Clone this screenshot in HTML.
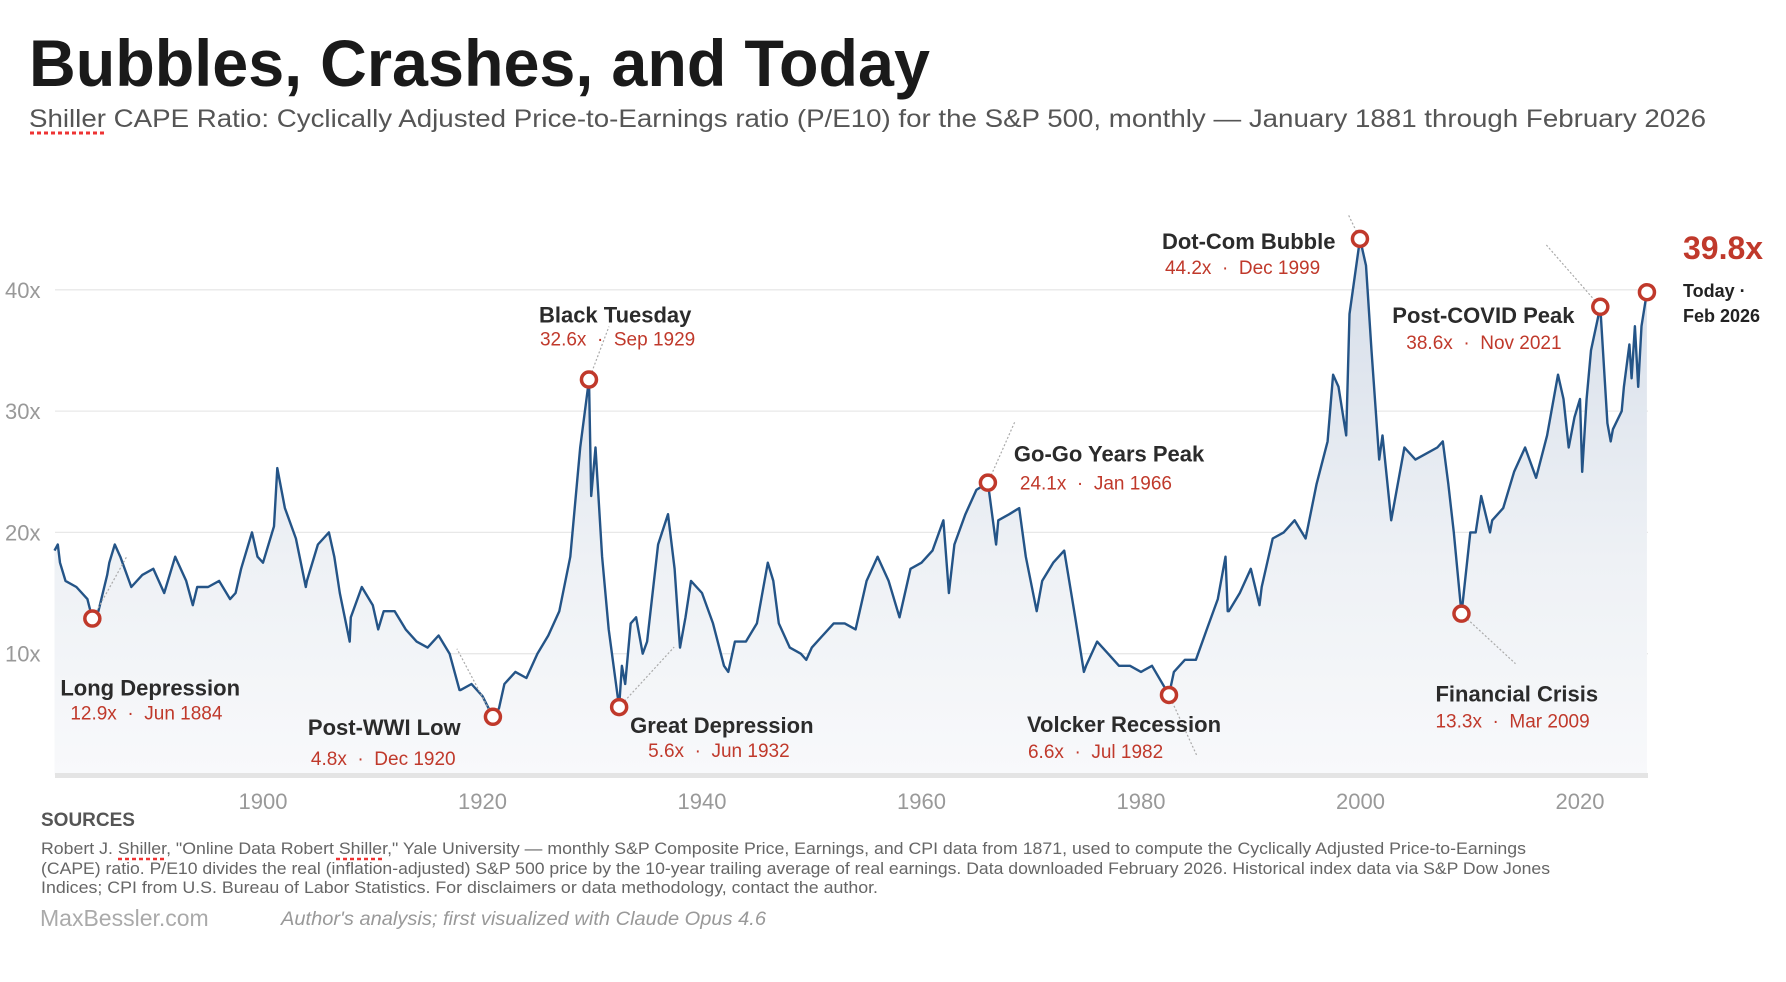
<!DOCTYPE html>
<html><head><meta charset="utf-8"><style>
html,body{margin:0;padding:0;background:#fff;}
svg{display:block;font-family:"Liberation Sans",Arial,sans-serif;}
</style></head><body>
<svg id="chart" width="1786" height="982" viewBox="0 0 1786 982">
<defs>
<linearGradient id="fillGrad" x1="0" y1="0" x2="0" y2="1">
<stop offset="0" stop-color="#d5dde9"/><stop offset="0.6" stop-color="#eef1f5"/><stop offset="1" stop-color="#f8f9fb"/>
</linearGradient>
</defs>
<text x="29" y="86" font-size="66" font-weight="bold" fill="#1a1a1a" textLength="901" lengthAdjust="spacingAndGlyphs">Bubbles, Crashes, and Today</text>
<text x="29" y="127" font-size="25" fill="#555" textLength="1677" lengthAdjust="spacingAndGlyphs">Shiller CAPE Ratio: Cyclically Adjusted Price-to-Earnings ratio (P/E10) for the S&amp;P 500, monthly — January 1881 through February 2026</text>
<line x1="30" y1="133" x2="106" y2="133" stroke="#e33" stroke-width="3" stroke-dasharray="4 3"/>
<g id="grid"></g>
<g id="yaxis"></g>
<path id="area" fill="url(#fillGrad)"/>
<path id="line" fill="none" stroke="#245487" stroke-width="2.4" stroke-linejoin="round"/>
<rect x="55" y="773" width="1593" height="5" fill="#e4e4e4"/>
<g id="xaxis"></g>
<g id="annots"></g>
<text x="1683" y="259" font-size="32" font-weight="bold" fill="#c0392b">39.8x</text>
<text x="1683" y="297" font-size="18" font-weight="bold" fill="#222">Today ·</text>
<text x="1683" y="322" font-size="18" font-weight="bold" fill="#222">Feb 2026</text>
<g>
<text x="41" y="826" font-size="19" font-weight="bold" fill="#555">SOURCES</text>
<text x="41" y="854" font-size="16.5" fill="#666" textLength="1485" lengthAdjust="spacingAndGlyphs">Robert J. Shiller, "Online Data Robert Shiller," Yale University — monthly S&amp;P Composite Price, Earnings, and CPI data from 1871, used to compute the Cyclically Adjusted Price-to-Earnings</text>
<text x="41" y="874" font-size="16.5" fill="#666" textLength="1509" lengthAdjust="spacingAndGlyphs">(CAPE) ratio. P/E10 divides the real (inflation-adjusted) S&amp;P 500 price by the 10-year trailing average of real earnings. Data downloaded February 2026. Historical index data via S&amp;P Dow Jones</text>
<text x="41" y="893" font-size="16.5" fill="#666" textLength="837" lengthAdjust="spacingAndGlyphs">Indices; CPI from U.S. Bureau of Labor Statistics. For disclaimers or data methodology, contact the author.</text>
<line x1="118" y1="859" x2="165" y2="859" stroke="#e33" stroke-width="2.5" stroke-dasharray="4 3"/>
<line x1="336" y1="859" x2="383" y2="859" stroke="#e33" stroke-width="2.5" stroke-dasharray="4 3"/>
<text x="40" y="926" font-size="23" fill="#aaa">MaxBessler.com</text>
<text x="281" y="925" font-size="19" font-style="italic" fill="#999" textLength="485" lengthAdjust="spacingAndGlyphs">Author's analysis; first visualized with Claude Opus 4.6</text>
</g>
</svg>
<script>
const years=[1881,1881.3,1881.5,1882,1883,1884,1884.45,1885,1885.8,1886,1886.5,1887,1888,1889,1890,1891,1892,1893,1893.6,1894,1895,1896,1897,1897.5,1898,1899,1899.5,1900,1901,1901.3,1902,1903,1903.9,1904,1905,1906,1906.5,1907,1907.9,1908,1909,1910,1910.5,1911,1912,1913,1914,1915,1916,1917,1917.9,1918,1919,1920,1920.95,1921.5,1922,1923,1924,1925,1926,1927,1928,1928.9,1929.7,1929.9,1930.3,1930.9,1931.5,1932.45,1932.7,1933,1933.5,1934,1934.6,1935,1936,1936.9,1937.5,1938,1938.5,1939,1940,1941,1942,1942.4,1943,1944,1945,1946,1946.5,1947,1948,1949,1949.5,1950,1951,1952,1953,1954,1955,1956,1957,1958,1959,1960,1961,1962,1962.5,1963,1964,1965,1966.05,1966.8,1967,1968,1968.9,1969.5,1970.5,1971,1972,1973,1974,1974.8,1975,1976,1977,1978,1979,1980,1981,1982.55,1983,1984,1985,1986,1987,1987.7,1987.9,1988,1989,1990,1990.8,1991,1992,1993,1994,1995,1996,1997,1997.5,1998,1998.7,1999,1999.95,2000.5,2001,2001.7,2002,2002.8,2003,2004,2005,2006,2007,2007.5,2008,2008.5,2009.2,2010,2010.5,2011,2011.8,2012,2013,2014,2015,2016,2017,2018,2018.5,2018.97,2019.5,2020,2020.2,2020.6,2021,2021.85,2022.5,2022.8,2023,2023.8,2024,2024.5,2024.7,2025,2025.3,2025.6,2026.1];
const cape=[18.5,19,17.5,16,15.5,14.5,12.9,13.5,16.5,17.5,19,18,15.5,16.5,17,15,18,16,14,15.5,15.5,16,14.5,15,17,20,18,17.5,20.5,25.3,22,19.5,15.5,16,19,20,18,15,11,13,15.5,14,12,13.5,13.5,12,11,10.5,11.5,10,7,7,7.5,6.5,4.8,5.5,7.5,8.5,8,10,11.5,13.5,18,27,32.6,23,27,18,12,5.6,9,7.5,12.5,13,10,11,19,21.5,17,10.5,13,16,15,12.5,9,8.5,11,11,12.5,17.5,16,12.5,10.5,10,9.5,10.5,11.5,12.5,12.5,12,16,18,16,13,17,17.5,18.5,21,15,19,21.5,23.5,24.1,19,21,21.5,22,18,13.5,16,17.5,18.5,13,8.5,9,11,10,9,9,8.5,9,6.6,8.5,9.5,9.5,12,14.5,18,13.5,13.5,15,17,14,15.5,19.5,20,21,19.5,24,27.5,33,32,28,38,44.2,42,35,26,28,21,22,27,26,26.5,27,27.5,24,20,13.3,20,20,23,20,21,22,25,27,24.5,28,33,31,27,29.5,31,25,31,35,38.6,29,27.5,28.5,30,32,35.5,32.7,37,32,37,39.8];
const yTicks=[10,20,30,40];
const xTicks=[1900,1920,1940,1960,1980,2000,2020];
const annYears=[1884.45,1920.95,1929.7,1932.45,1966.05,1982.55,1999.95,2021.85,2009.2,2026.1];
const annValues=[12.9,4.8,32.6,5.6,24.1,6.6,44.2,38.6,13.3,39.8];
const annTitles=["Long Depression","Post-WWI Low","Black Tuesday","Great Depression","Go-Go Years Peak","Volcker Recession","Dot-Com Bubble","Post-COVID Peak","Financial Crisis",""];
const annSubs=["12.9x  ·  Jun 1884","4.8x  ·  Dec 1920","32.6x  ·  Sep 1929","5.6x  ·  Jun 1932","24.1x  ·  Jan 1966","6.6x  ·  Jul 1982","44.2x  ·  Dec 1999","38.6x  ·  Nov 2021","13.3x  ·  Mar 2009",""];
// label layout (offsets relative to marker; style only)
const layout=[[-32,77,-22,101,35,-63],[-185,18,-182,48,-36,-68],[-50,-57,-49,-34,20,-53],[11,26,29,50,55,-60],[26,-21,32,7,27,-61],[-142,37,-141,63,28,61],[-198,10,-195,35,-12,-25],[-208,16,-194,42,-55,-63],[-26,88,-26,114,54,50],null];
const X=y=>263+(y-1900)*10.975;
const Y=v=>775-v*12.13;
const NS="http://www.w3.org/2000/svg";
function mk(tag,attrs,parent){const e=document.createElementNS(NS,tag);for(const k in attrs)e.setAttribute(k,attrs[k]);parent.appendChild(e);return e;}
const grid=document.getElementById('grid'),yax=document.getElementById('yaxis'),xax=document.getElementById('xaxis'),ann=document.getElementById('annots');
yTicks.forEach(t=>{
 const l=mk('line',{x1:55,x2:1648,y1:Y(t),y2:Y(t),stroke:'#e8e8e8','stroke-width':1.3},grid);
 
 
 const tx=mk('text',{x:5,y:Y(t)+8,'font-size':22,fill:'#999'},yax);tx.textContent=t+'x';
 
 
});
xTicks.forEach(t=>{
 const tx=mk('text',{x:X(t),y:809,'font-size':22,fill:'#999','text-anchor':'middle'},xax);tx.textContent=t;
 
 
});
let d='';years.forEach((y,i)=>{d+=(i?'L':'M')+X(y).toFixed(1)+' '+Y(cape[i]).toFixed(1);});
document.getElementById('line').setAttribute('d',d);
document.getElementById('area').setAttribute('d',d+'L'+X(years[years.length-1])+' 775L'+X(years[0])+' 775Z');
annYears.forEach((yr,i)=>{
 const cx=X(yr),cy=Y(annValues[i]);const L=layout[i];
 if(L){
  const ld=mk('line',{x1:cx,y1:cy,x2:cx+L[4],y2:cy+L[5],stroke:'#aaa','stroke-width':1.2,'stroke-dasharray':'2 2'},ann);
  
  
  const t1=mk('text',{x:cx+L[0],y:cy+L[1],'font-size':22,'font-weight':'bold',fill:'#2b2b2b'},ann);t1.textContent=annTitles[i];
  
  
  const t2=mk('text',{x:cx+L[2],y:cy+L[3],'font-size':19,fill:'#c0392b','xml:space':'preserve'},ann);t2.textContent=annSubs[i];
  t2.style.whiteSpace='pre';
  
  
 }
 const c=mk('circle',{cx:cx,cy:cy,r:7.5,fill:'#fff',stroke:'#c0392b','stroke-width':3.5},ann);
 
 
});
</script>
</body></html>
